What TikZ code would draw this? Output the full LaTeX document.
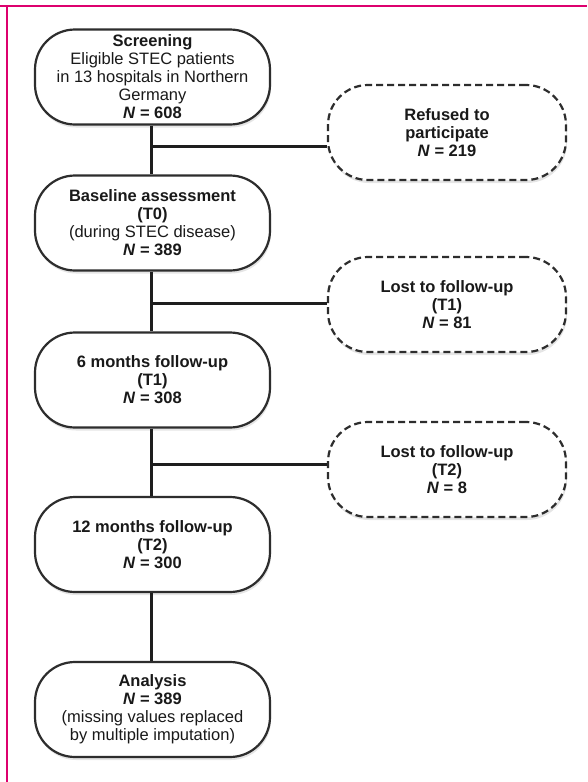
\documentclass[tikz,border=0pt]{standalone}
\usepackage{fontspec}
\setmainfont{Liberation Sans}
\usetikzlibrary{shadows}
\definecolor{framemag}{RGB}{221,0,110}
\definecolor{boxgray}{RGB}{45,45,45}
\definecolor{linegray}{RGB}{30,30,30}
\definecolor{txt}{RGB}{25,25,25}
\tikzset{
  basebox/.style={fill=white, line width=2.2pt, rounded corners=40pt,
    align=center, text=txt, font=\fontsize{16.5}{18}\selectfont, inner sep=2pt,
    minimum height=95pt,
    drop shadow={opacity=0.2, shadow xshift=1pt, shadow yshift=-3pt}},
  mainbox/.style={basebox, draw=boxgray, minimum width=235pt},
  sidebox/.style={basebox, draw=boxgray, dash pattern=on 7pt off 4pt, minimum width=238pt},
  conn/.style={draw=linegray, line width=3pt},
}
\begin{document}
\begin{tikzpicture}[x=1pt,y=-1pt]
\useasboundingbox (0,0) rectangle (587,782);
\fill[white] (0,0) rectangle (587,782);
\draw[framemag, line width=2.4pt] (0,6) -- (587,6);
\draw[framemag, line width=2.4pt] (7,6) -- (7,782);

\node[mainbox] (scr) at (152.5,77) {\textbf{Screening}\\Eligible STEC patients\\in 13 hospitals in Northern\\Germany\\\textbf{\textit{N} = 608}};
\node[mainbox] (base) at (152.5,223) {\textbf{Baseline assessment}\\\textbf{(T0)}\\(during STEC disease)\\\textbf{\textit{N} = 389}};
\node[mainbox] (six) at (152.5,380) {\textbf{6 months follow-up}\\\textbf{(T1)}\\\textbf{\textit{N} = 308}};
\node[mainbox] (twelve) at (152.5,544.5) {\textbf{12 months follow-up}\\\textbf{(T2)}\\\textbf{\textit{N} = 300}};
\node[mainbox] (ana) at (152.5,709.5) {\textbf{Analysis}\\\textbf{\textit{N} = 389}\\(missing values replaced\\by multiple imputation)};

\node[sidebox] (ref) at (447,132.5) {\textbf{Refused to}\\\textbf{participate}\\\textbf{\textit{N} = 219}};
\node[sidebox] (lost1) at (447,304.5) {\textbf{Lost to follow-up}\\\textbf{(T1)}\\\textbf{\textit{N} = 81}};
\node[sidebox] (lost2) at (447,469.5) {\textbf{Lost to follow-up}\\\textbf{(T2)}\\\textbf{\textit{N} = 8}};

\coordinate (j1) at ([xshift=-1.5pt]scr.south |- 0,146);
\coordinate (j2) at ([xshift=-1.5pt]base.south |- 0,303);
\coordinate (j3) at ([xshift=-1.5pt]six.south |- 0,464);

\draw[conn] ([xshift=-1.5pt]scr.south) -- ([xshift=-1.5pt]base.north);
\draw[conn] ([xshift=-1.5pt]base.south) -- ([xshift=-1.5pt]six.north);
\draw[conn] ([xshift=-1.5pt]six.south) -- ([xshift=-1.5pt]twelve.north);
\draw[conn] ([xshift=-1.5pt]twelve.south) -- ([xshift=-1.5pt]ana.north);
\draw[conn] (j1) -- (j1 -| ref.west);
\draw[conn] (j2) -- (j2 -| lost1.west);
\draw[conn] (j3) -- (j3 -| lost2.west);
\end{tikzpicture}
\end{document}
